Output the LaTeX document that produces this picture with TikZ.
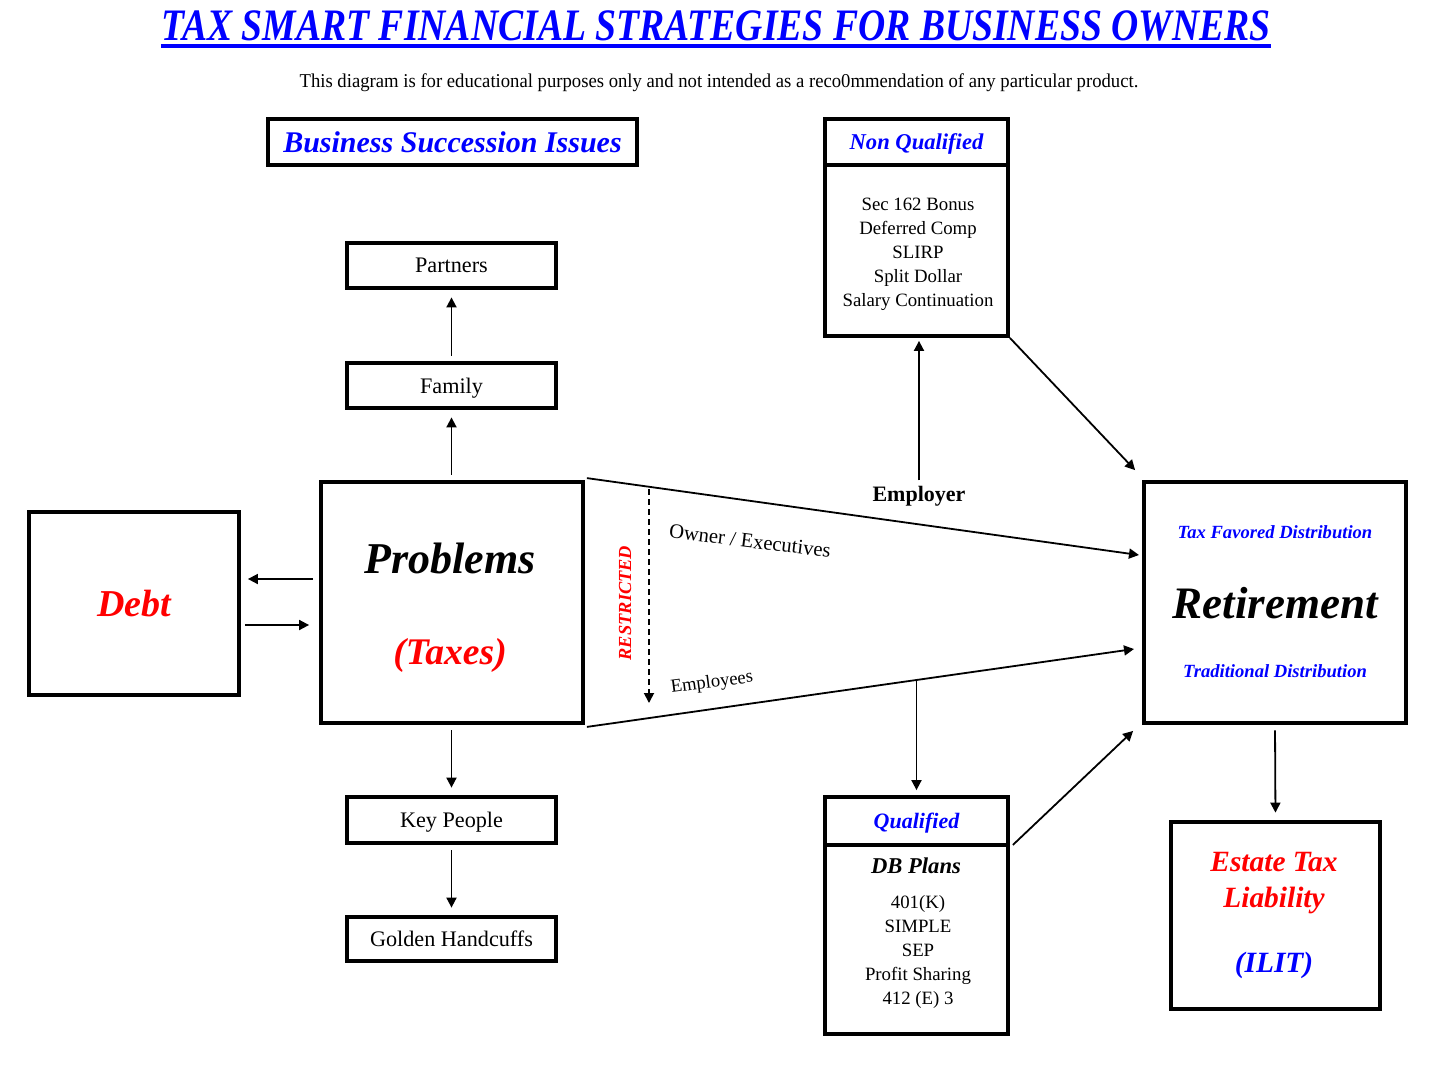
\documentclass[tikz,border=0pt]{standalone}
\usepackage{fontspec}
\setmainfont{Liberation Serif}
\newfontfamily\titlefont{Liberation Serif}[FakeStretch=0.837]
\newfontfamily\subfont{Liberation Serif}[FakeStretch=0.953]
\usetikzlibrary{arrows.meta,calc}
\definecolor{pblue}{RGB}{0,0,255}
\definecolor{pred}{RGB}{255,0,0}
\newcommand\fsz[2]{\fontsize{#1pt}{#2pt}\selectfont}
\begin{document}
\begin{tikzpicture}[x=0.5pt,y=-0.5pt,
  box/.style={draw,line width=1.9pt,inner sep=0pt,text depth=0pt,align=center},
  lbl/.style={inner sep=0pt,anchor=base},
  listtext/.style={inner sep=0pt,anchor=north,align=center,font=\fsz{9.4}{12}},
  arr/.style={line width=0.9pt,-{Triangle[length=5pt,width=5pt]}},
  varr/.style={arr,shorten <=2.75pt,shorten >=3.75pt}
]
\useasboundingbox (0,0) rectangle (1437,1084);
\fill[white] (0,0) rectangle (1437,1084);

% title and note
\node[lbl,text=pblue] (title) at (716,40) {\titlefont\fsz{22.5}{27}\bfseries\itshape TAX SMART FINANCIAL STRATEGIES FOR BUSINESS OWNERS};
\draw[pblue,line width=1.6pt] ($(title.base west)+(0,6)$) -- ($(title.base east)+(0,6)$);
\node[lbl] (note) at (719,87) {\subfont\fsz{9.8}{12}This diagram is for educational purposes only and not intended as a reco0mmendation of any particular product.};

% left column
\node[box,minimum width=184.5pt,minimum height=23pt,text=pblue] (bsi) at (452.5,142) {\fsz{15}{18}\bfseries\itshape Business Succession Issues};
\node[box,minimum width=104.5pt,minimum height=22.5pt] (partners) at (451.5,265.5) {\fsz{11.1}{13}Partners};
\node[box,minimum width=104.5pt,minimum height=22.5pt] (family) at (451.5,385.5) {\fsz{11.1}{13}Family};
\node[box,minimum width=131pt,minimum height=120.5pt] (problems) at (452,602.5) {};
\node[lbl] (probt) at (450,573) {\fsz{22}{26}\bfseries\itshape Problems};
\node[lbl,text=pred] (taxes) at (450,664) {\fsz{18.8}{22}\bfseries\itshape (Taxes)};
\node[box,minimum width=105pt,minimum height=91.5pt,text=pred] (debt) at (134,603.5) {\fsz{19}{22}\bfseries\itshape Debt};
\node[box,minimum width=104.5pt,minimum height=23pt] (key) at (451.5,820) {\fsz{11.1}{13}Key People};
\node[box,minimum width=104.5pt,minimum height=22pt] (golden) at (451.5,939) {\fsz{11.1}{13}Golden Handcuffs};

% non qualified
\node[box,minimum width=91.5pt,minimum height=23pt,text=pblue] (nqhead) at (916.5,142) {\fsz{11.3}{13}\bfseries\itshape Non Qualified};
\node[box,minimum width=91.5pt,minimum height=85.5pt] (nqbody) at (916.5,250.5) {};
\node[listtext] (nqlist) at (918,198) {Sec 162 Bonus\\Deferred Comp\\SLIRP\\Split Dollar\\Salary Continuation};

% qualified
\node[box,minimum width=91.5pt,minimum height=24pt,text=pblue] (qhead) at (916.5,821) {\fsz{11}{13}\bfseries\itshape Qualified};
\node[box,minimum width=91.5pt,minimum height=94.5pt] (qbody) at (916.5,939.5) {};
\node[lbl] (dbp) at (916,873) {\fsz{11.3}{13}\bfseries\itshape DB Plans};
\node[listtext] (qlist) at (918,895) {401(K)\\SIMPLE\\SEP\\Profit Sharing\\412 (E) 3};

% retirement
\node[box,minimum width=131pt,minimum height=120.5pt] (ret) at (1275,602.5) {};
\node[lbl,text=pblue] (tfd) at (1275,538) {\fsz{9.3}{11}\bfseries\itshape Tax Favored Distribution};
\node[lbl] (rett) at (1275,618) {\fsz{22.5}{26}\bfseries\itshape Retirement};
\node[lbl,text=pblue] (trd) at (1275,677) {\fsz{9.3}{11}\bfseries\itshape Traditional Distribution};

% estate
\node[box,minimum width=104.5pt,minimum height=93.5pt] (estate) at (1275.5,915.5) {};
\node[lbl,text=pred] (est1) at (1274,871) {\fsz{14.7}{17}\bfseries\itshape Estate Tax};
\node[lbl,text=pred] (est2) at (1274,907) {\fsz{14.7}{17}\bfseries\itshape Liability};
\node[lbl,text=pblue] (ilit) at (1274,972) {\fsz{14.7}{17}\bfseries\itshape (ILIT)};

% middle labels
\node[lbl] (employer) at (919,501) {\fsz{11}{13}\bfseries Employer};
\node[inner sep=0pt,rotate=-7] (owner) at (750,541) {\fsz{10.3}{12}Owner / Executives};
\node[inner sep=0pt,rotate=7.5] (employees) at (712,683) {\fsz{9.3}{11}Employees};
\node[inner sep=0pt,rotate=90,text=pred] (restricted) at (625,603) {\fsz{9.2}{11}\bfseries\itshape RESTRICTED};

% helper coordinates
\coordinate (y579) at (0,579);
\coordinate (y625) at (0,625);
\coordinate (r1) at (1139,555);
\coordinate (r2) at (1134,649);
\coordinate (rs) at (649,489);
\coordinate (re) at (649,703);

% connectors
\draw[varr] (family.north) -- (partners.south);
\draw[varr] (family.south |- problems.north) -- (family.south);
\draw[varr] (key.north |- problems.south) -- (key.north);
\draw[varr] (key.south) -- (golden.north);
\draw[arr,shorten <=3pt,shorten >=3.5pt] (problems.west |- y579) -- (debt.east |- y579);
\draw[arr,shorten <=2pt,shorten >=5pt] (debt.east |- y625) -- (problems.west |- y625);
\draw[arr] ($(problems.north east)+(2,-2)$) -- (r1);
\draw[arr] ($(problems.south east)+(2,2)$) -- coordinate[pos=0.604] (q2) (r2);
\draw[arr,shorten <=2.5pt,shorten >=1.5pt] (employer.north) -- (employer.north |- nqbody.south);
\draw[arr,shorten >=2.5pt] (qhead.north |- q2) -- (qhead.north);
\draw[arr] (nqbody.south east) -- ($(ret.north west)+(-7,-10)$);
\draw[arr] ($(qhead.south east)+(3,-2)$) -- ($(ret.south west)+(-9,6)$);
\draw[varr] (ret.south) -- (estate.north);
\draw[arr,dashed,dash pattern=on 3pt off 2pt] (rs) -- (re);
\end{tikzpicture}
\end{document}
